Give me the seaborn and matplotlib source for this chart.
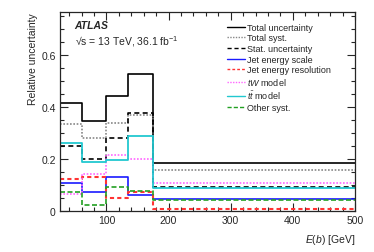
import matplotlib
matplotlib.use("Agg")
import matplotlib.pyplot as plt
import seaborn as sns
import pandas as pd
import numpy as np
from matplotlib.ticker import MultipleLocator, FixedLocator, FuncFormatter

sns.set_theme(style="ticks")
plt.rcParams['font.family'] = ['Liberation Sans', 'DejaVu Sans']
plt.rcParams['mathtext.fontset'] = 'custom'
plt.rcParams['mathtext.rm'] = 'Liberation Sans'
plt.rcParams['mathtext.it'] = 'Liberation Sans:italic'
plt.rcParams['mathtext.bf'] = 'Liberation Sans:bold'

bin_edges = [25, 60, 100, 135, 175, 500]
total_unc = [0.415, 0.345, 0.440, 0.527, 0.183]
total_syst = [0.336, 0.281, 0.340, 0.370, 0.159]
stat_unc = [0.249, 0.199, 0.281, 0.376, 0.091]
jes = [0.107, 0.074, 0.130, 0.062, 0.045]
jer = [0.123, 0.130, 0.051, 0.072, 0.009]
tw_model = [0.067, 0.142, 0.214, 0.199, 0.109]
tt_model = [0.260, 0.190, 0.196, 0.287, 0.087]
other_syst = [0.072, 0.024, 0.093, 0.076, 0.043]

labels = ["Total uncertainty", "Total syst.", "Stat. uncertainty", "Jet energy scale",
          "Jet energy resolution", r"$tW$ model", r"$t\bar{t}$ model", "Other syst."]
series = [total_unc, total_syst, stat_unc, jes, jer, tw_model, tt_model, other_syst]
colors = ["black", "#888888", "black", "#1a1aff", "#ff3333", "#ff66ff", "#22c8d0", "#22a022"]
styles = ["-", (0, (1, 1)), (0, (3, 2)), "-", (0, (2, 1.5)), (0, (1, 1)), "-", (0, (3, 1.5))]
widths = [1.2, 1.2, 1.2, 1.2, 1.5, 1.2, 1.3, 1.2]

fig = plt.figure(figsize=(3.74, 2.53), dpi=100)
ax = fig.add_axes([0.160, 0.162, 0.789, 0.787])

for lab, vals, c, ls, lw in zip(labels, series, colors, styles, widths):
    df = pd.DataFrame({"x": bin_edges, "y": list(vals) + [vals[-1]]})
    sns.lineplot(data=df, x="x", y="y", ax=ax, drawstyle="steps-post", color=c,
                 linestyle=ls, linewidth=lw, label=lab)

ax.set_xlim(25, 500)
ax.set_ylim(0, 0.765)
ax.xaxis.set_major_locator(FixedLocator([100, 200, 300, 400, 500]))
ax.xaxis.set_minor_locator(MultipleLocator(20))
ax.yaxis.set_major_locator(MultipleLocator(0.2))
ax.yaxis.set_minor_locator(MultipleLocator(0.05))
ax.yaxis.set_major_formatter(FuncFormatter(lambda v, p: "0" if abs(v) < 1e-9 else f"{v:.1f}"))
ax.tick_params(which="both", direction="in", top=True, right=True, labelsize=7.5, width=0.8, pad=3)
ax.tick_params(which="major", length=6)
ax.tick_params(which="minor", length=3)
for s in ax.spines.values():
    s.set_linewidth(0.9)

ax.set_xlabel(r"$E$($b$) [GeV]", fontsize=7.5, loc="right", labelpad=5)
ax.set_ylabel("Relative uncertainty", fontsize=7.5, loc="top", labelpad=2)

ax.text(0.05, 0.935, "ATLAS", transform=ax.transAxes, fontsize=7.5,
        fontweight="bold", fontstyle="italic", va="center")
ax.text(0.05, 0.855, "\u221as = 13 TeV, 36.1 fb$^{-1}$", transform=ax.transAxes,
        fontsize=7.5, va="center")

leg = ax.legend(loc="upper left", bbox_to_anchor=(0.565, 0.945), frameon=False,
                fontsize=6.5, handlelength=2.0, handletextpad=0.3, labelspacing=0.18,
                borderaxespad=0, borderpad=0)
for h in leg.get_lines():
    h.set_linewidth(1.0)

fig.savefig("out.png", dpi=100)
